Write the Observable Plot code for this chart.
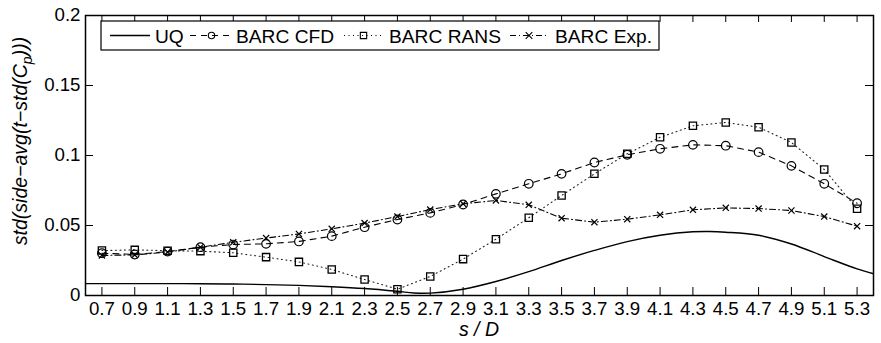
<!DOCTYPE html>
<html><head><meta charset="utf-8">
<script src="https://cdn.jsdelivr.net/npm/d3@7"></script>
<script src="https://cdn.jsdelivr.net/npm/@observablehq/plot@0.6"></script>
<style>
body{margin:0;background:#fff;}
#chart svg{font-family:"Liberation Sans",Arial,Helvetica,sans-serif;}
</style></head><body><div id="chart"></div>
<script>
// ---- data ----
const sValues = [0.7,0.9,1.1,1.3,1.5,1.7,1.9,2.1,2.3,2.5,2.7,2.9,3.1,3.3,3.5,3.7,3.9,4.1,4.3,4.5,4.7,4.9,5.1,5.3];
const barcCFD  = [0.0302,0.0293,0.0314,0.0345,0.0364,0.0369,0.0386,0.0424,0.0488,0.0543,0.0590,0.0650,0.0726,0.0798,0.0869,0.0950,0.1005,0.1048,0.1076,0.1070,0.1024,0.0926,0.0798,0.0659];
const barcRANS = [0.0321,0.0326,0.0320,0.0317,0.0305,0.0274,0.0240,0.0186,0.0114,0.0045,0.0136,0.0260,0.0402,0.0555,0.0714,0.0869,0.1012,0.1130,0.1212,0.1236,0.1202,0.1093,0.0900,0.0619];
const barcExp  = [0.0286,0.0290,0.0310,0.0345,0.0380,0.0410,0.0440,0.0476,0.0517,0.0564,0.0614,0.0655,0.0679,0.0648,0.0552,0.0524,0.0545,0.0576,0.0612,0.0626,0.0621,0.0607,0.0564,0.0495];
const uqS = [0.6,0.7,0.9,1.1,1.3,1.5,1.7,1.9,2.1,2.3,2.5,2.6,2.7,2.9,3.1,3.3,3.5,3.7,3.9,4.1,4.3,4.4,4.5,4.7,4.9,5.1,5.3,5.4];
const uqV = [0.0085,0.0085,0.0085,0.0085,0.0084,0.0082,0.0078,0.0072,0.0063,0.0050,0.0030,0.0018,0.0017,0.0045,0.0100,0.0170,0.0250,0.0322,0.0385,0.0430,0.0455,0.0457,0.0452,0.0430,0.0368,0.0278,0.0190,0.0155];
const xTicks = sValues;
const yTicks = [0,0.05,0.1,0.15,0.2];
const yTickLabels = ["0","0.05","0.1","0.15","0.2"];
const seriesNames = ["UQ","BARC CFD","BARC RANS","BARC Exp."];

// ---- tables ----
const cfd = sValues.map((s,i)=>({s, v: barcCFD[i]}));
const rans = sValues.map((s,i)=>({s, v: barcRANS[i]}));
const exp = sValues.map((s,i)=>({s, v: barcExp[i]}));
const uq = uqS.map((s,i)=>({s, v: uqV[i]}));

const W = 881, H = 343, mL = 85, mR = 8, mT = 15, mB = 48;
const pw = W - mL - mR, ph = H - mT - mB;
const font = '"Liberation Sans",Arial,Helvetica,sans-serif';

const plot = Plot.plot({
  width: W, height: H,
  marginLeft: mL, marginRight: mR, marginTop: mT, marginBottom: mB,
  style: {fontFamily: font, fontSize: "18.7px", background: "white", color: "black"},
  x: {domain: [0.6, 5.4], label: null},
  y: {domain: [0, 0.2], label: null},
  marks: [
    Plot.line(uq, {x: "s", y: "v", stroke: "black", strokeWidth: 1.4, curve: "catmull-rom"}),
    Plot.line(cfd, {x: "s", y: "v", stroke: "black", strokeWidth: 1.1, strokeDasharray: "6,5"}),
    Plot.line(rans, {x: "s", y: "v", stroke: "#222", strokeWidth: 1.1, strokeDasharray: "1,3.5"}),
    Plot.line(exp, {x: "s", y: "v", stroke: "black", strokeWidth: 1.1, strokeDasharray: "6,3,1,3"}),
    Plot.dot(cfd, {x: "s", y: "v", symbol: "circle", r: 4.3, stroke: "black", fill: "none", strokeWidth: 1.2}),
    Plot.dot(rans, {x: "s", y: "v", symbol: "square", r: 4.1, stroke: "black", fill: "none", strokeWidth: 1.3}),
    Plot.dot(exp, {x: "s", y: "v", symbol: "times", r: 2.9, stroke: "black", fill: "none", strokeWidth: 1.2}),
    // inward ticks
    Plot.tickX(xTicks, {x: d => d, insetTop: ph - 8, stroke: "black", strokeWidth: 1}),
    Plot.tickX(xTicks, {x: d => d, insetBottom: ph - 7, stroke: "black", strokeWidth: 1}),
    Plot.tickY(yTicks, {y: d => d, insetRight: pw - 8, stroke: "black", strokeWidth: 1}),
    Plot.tickY(yTicks, {y: d => d, insetLeft: pw - 8, stroke: "black", strokeWidth: 1}),
    Plot.axisX({ticks: xTicks, tickSize: 0, tickPadding: 6, tickFormat: d => d.toFixed(1), label: null}),
    Plot.axisY({ticks: yTicks, tickSize: 0, tickPadding: 5, tickFormat: (d, i) => yTickLabels[i], label: null}),
    Plot.frame({stroke: "black", strokeWidth: 1.5})
  ]
});
document.getElementById("chart").appendChild(plot);

const svg = d3.select(plot);
// enforce tick label size
svg.selectAll("g[aria-label='x-axis tick label'], g[aria-label='y-axis tick label']")
  .attr("font-size", null).style("font-size", "18.7px").attr("fill", "black");

// axis titles
svg.append("text").attr("x", mL + pw/2).attr("y", 336)
  .attr("text-anchor", "middle").attr("font-style", "italic").style("font-size", "19.5px")
  .attr("font-family", font).text("s / D");
const yl = svg.append("text").attr("transform", `translate(27,${mT + ph/2 - 14}) rotate(-90)`)
  .attr("text-anchor", "middle").attr("font-style", "italic").style("font-size", "19.5px")
  .attr("font-family", font);
yl.append("tspan").text("std(side\u2212avg(t\u2212std(C");
yl.append("tspan").style("font-size", "14px").attr("dy", 5).text("p");
yl.append("tspan").attr("dy", -5).text(")))");

// legend
const lg = svg.append("g").attr("font-family", font).attr("text-anchor", "start");
lg.append("rect").attr("x", 101).attr("y", 21).attr("width", 558).attr("height", 29)
  .attr("fill", "white").attr("stroke", "black").attr("stroke-width", 1.2);
const ly = 35.5;
const entries = [
  {name: seriesNames[0], x1: 110, x2: 150, dash: null, sym: null, tx: 155},
  {name: seriesNames[1], x1: 190, x2: 233, dash: "6,5", sym: d3.symbolCircle, size: Math.PI*3.2*3.2, tx: 236},
  {name: seriesNames[2], x1: 344, x2: 383, dash: "1,3.5", sym: d3.symbolSquare, size: 40, tx: 389},
  {name: seriesNames[3], x1: 510, x2: 548, dash: "6,3,1,3", sym: d3.symbolTimes, size: 30, tx: 555}
];
for (const e of entries) {
  lg.append("line").attr("x1", e.x1).attr("x2", e.x2).attr("y1", ly).attr("y2", ly)
    .attr("stroke", "black").attr("stroke-width", e.dash ? 1.1 : 1.4)
    .attr("stroke-dasharray", e.dash);
  if (e.sym) {
    lg.append("path").attr("d", d3.symbol(e.sym, e.size)())
      .attr("transform", `translate(${(e.x1+e.x2)/2},${ly})`)
      .attr("fill", "none").attr("stroke", "black").attr("stroke-width", 1.1);
  }
  lg.append("text").attr("x", e.tx).attr("y", ly + 7).style("font-size", "19.2px").text(e.name);
}
</script></body></html>
